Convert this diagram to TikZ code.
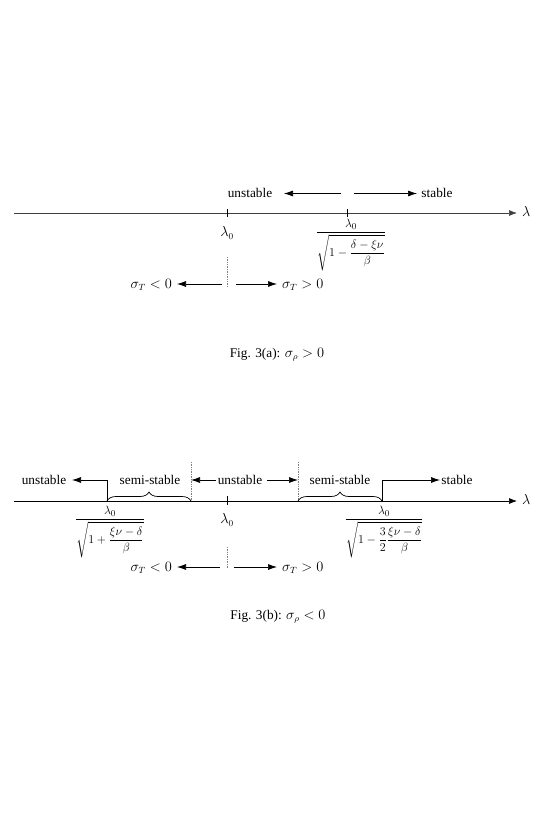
\documentclass[tikz,border=0pt]{standalone}
\usepackage{amsmath}
\usepackage{fontspec}
\setmainfont{Liberation Serif}
\usetikzlibrary{arrows.meta,calc,decorations.pathreplacing}

\newcommand{\numstrut}{\rule{0pt}{10pt}}
\newcommand{\denstrut}{\rule[-4pt]{0pt}{4pt}}

\begin{document}
\begin{tikzpicture}[
    x=1pt, y=-1pt,
    every node/.style={font=\fontsize{13.3}{16}\selectfont, inner sep=0pt},
    word/.style={anchor=base},
    frac/.style={anchor=north, font=\fontsize{12.5}{15}\selectfont},
    axis/.style={-{Latex[length=8pt,width=6pt]}, line width=0.7pt},
    arrow/.style={-{Latex[length=9pt,width=6pt]}, line width=0.7pt},
    tick/.style={line width=0.7pt},
    guide/.style={gray, densely dotted, line width=0.7pt},
    bracket/.style={decorate, decoration={brace, amplitude=9pt}, line width=0.7pt}
]
\useasboundingbox (0,0) rectangle (554,830);

% Fig. 3(a)
\coordinate (startA) at (14,213);
\coordinate (endA) at (517,213);
\draw[axis, black!75] (startA) -- (endA);
\node[anchor=west] (lamA) at (522,211) {$\lambda$};

\coordinate (zeroA) at (227,213);
\coordinate (critA) at (347,213);
\draw[tick] ($(zeroA)+(0,-4)$) -- ($(zeroA)+(0,4)$);
\draw[tick] ($(critA)+(0,-4)$) -- ($(critA)+(0,4)$);

\node[word] (unstA) at (250,197) {unstable};
\node[word] (stabA) at (437,197) {stable};
\coordinate (fromLA) at (341,193.5);
\coordinate (tipLA) at (284,193.5);
\coordinate (fromRA) at (354,193.5);
\coordinate (tipRA) at (417,193.5);
\draw[arrow] (fromLA) -- (tipLA);
\draw[arrow] (fromRA) -- (tipRA);

\node (lzeroA) at (227,233) {$\lambda_0$};
\node[frac] (lcritA) at (351,219) {$\dfrac{\lambda_0}{\sqrt{1-\dfrac{\numstrut\delta-\xi\nu}{\beta\denstrut}}}$};

\coordinate (guideA) at (227,257);
\coordinate (guideEndA) at (227,287);
\draw[guide] (guideA) -- (guideEndA);

\node[word, anchor=base east] (negA) at (172,288) {$\sigma_T<0$};
\node[word, anchor=base west] (posA) at (282,288) {$\sigma_T>0$};
\coordinate (fromNA) at (222,284);
\coordinate (fromPA) at (236,284);
\draw[arrow, shorten >=5pt] (fromNA) -- (fromNA -| negA.east);
\draw[arrow, shorten >=5pt] (fromPA) -- (fromPA -| posA.west);

\node[word] (capA) at (277,357) {Fig. 3(a): $\sigma_\rho>0$};

% Fig. 3(b)
\coordinate (startB) at (14,501);
\coordinate (endB) at (517,501);
\draw[axis] (startB) -- (endB);
\node[anchor=west] (lamB) at (522,499) {$\lambda$};

\coordinate (zeroB) at (227,501);
\draw[tick] ($(zeroB)+(0,-5)$) -- ($(zeroB)+(0,4)$);

\coordinate (critL) at (107,501);
\coordinate (critR) at (382,501);
\coordinate (midL) at (191,501);
\coordinate (midR) at (298,501);

\node[word] (unstL) at (44,484) {unstable};
\node[word] (semiL) at (150,484) {semi-stable};
\node[word] (unstM) at (240,484) {unstable};
\node[word] (semiR) at (340,484) {semi-stable};
\node[word] (stabR) at (457,484) {stable};

\coordinate (tipUL) at (72,480);
\coordinate (tipSR) at (440,480);
\draw[arrow] (critL) |- (tipUL);
\draw[arrow] (critR) |- (tipSR);

\coordinate (fromML) at (216,480);
\coordinate (fromMR) at (267,480);
\draw[arrow] (fromML) -- (midL |- fromML);
\draw[arrow] (fromMR) -- (midR |- fromMR);

\draw[guide] ($(midL)+(0,-39)$) -- (midL);
\draw[guide] ($(midR)+(0,-39)$) -- (midR);
\draw[bracket] (critL) -- (midL);
\draw[bracket] (midR) -- (critR);

\node (lzeroB) at (227,520) {$\lambda_0$};
\node[frac] (lcritL) at (110,506) {$\dfrac{\lambda_0}{\sqrt{1+\dfrac{\numstrut\xi\nu-\delta}{\beta\denstrut}}}$};
\node[frac] (lcritR) at (384,506) {$\dfrac{\lambda_0}{\sqrt{1-\dfrac{3}{2}\dfrac{\numstrut\xi\nu-\delta}{\beta\denstrut}}}$};

\coordinate (guideB) at (227,547);
\coordinate (guideEndB) at (227,568);
\draw[guide] (guideB) -- (guideEndB);

\node[word, anchor=base east] (negB) at (172,571) {$\sigma_T<0$};
\node[word, anchor=base west] (posB) at (282,571) {$\sigma_T>0$};
\coordinate (fromNB) at (220,567);
\coordinate (fromPB) at (234,567);
\draw[arrow, shorten >=5pt] (fromNB) -- (fromNB -| negB.east);
\draw[arrow, shorten >=5pt] (fromPB) -- (fromPB -| posB.west);

\node[word] (capB) at (278,619) {Fig. 3(b): $\sigma_\rho<0$};

\end{tikzpicture}
\end{document}
